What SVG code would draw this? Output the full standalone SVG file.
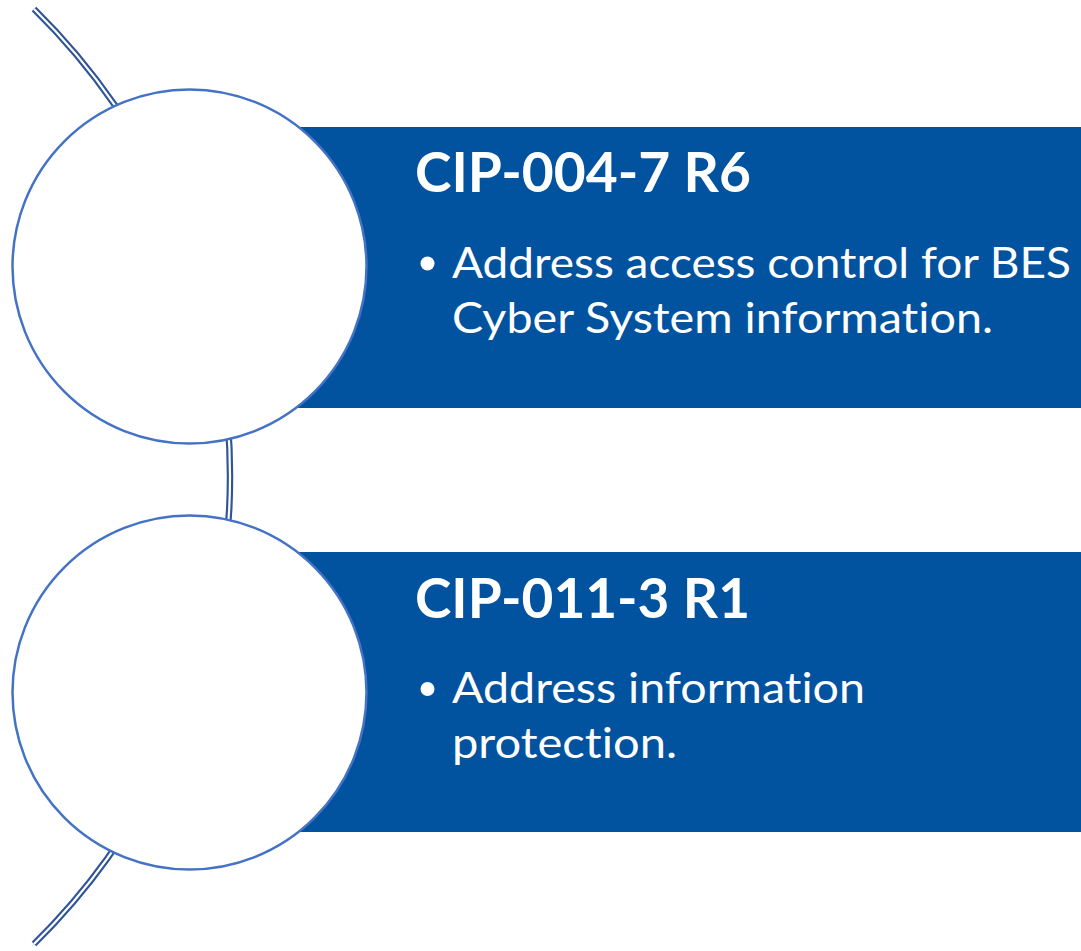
<svg xmlns="http://www.w3.org/2000/svg" width="1081" height="951" viewBox="0 0 1081 951">
<style>
.bar{fill:#01529F;}
.disc{fill:#FFFFFF;stroke:#4472C4;stroke-width:2.5;}
.title{font-family:Lato,"Open Sans",sans-serif;font-weight:bold;font-size:56px;fill:#FFFFFF;font-variant-ligatures:none;}
.body{font-family:Lato,"Open Sans",sans-serif;font-size:43px;fill:#FFFFFF;font-variant-ligatures:none;}
.arcOuter{fill:none;stroke:#2F5597;stroke-width:6.5;}
.arcInner{fill:none;stroke:#FFFFFF;stroke-width:2.2;}
</style>
<rect width="1081" height="951" fill="#FFFFFF"/>
<g id="connectors">
<path class="arcOuter" d="M34,9 A655.5,655.5 0 0 1 34,944"/>
<path class="arcInner" d="M34,9 A655.5,655.5 0 0 1 34,944"/>
</g>
<g id="node1">
<rect class="bar" x="190" y="127" width="891" height="281"/>
<circle class="disc" cx="189.5" cy="266.5" r="177"/>
<text class="title" x="415" y="192" textLength="336" lengthAdjust="spacingAndGlyphs">CIP-004-7 R6</text>
<circle cx="427.5" cy="263.5" r="7" fill="#FFFFFF"/>
<text class="body" x="452" y="278" textLength="619" lengthAdjust="spacingAndGlyphs">Address access control for BES</text>
<text class="body" x="452" y="333" textLength="541" lengthAdjust="spacingAndGlyphs">Cyber System information.</text>
</g>
<g id="node2">
<rect class="bar" x="190" y="552" width="891" height="280"/>
<circle class="disc" cx="189.5" cy="692.5" r="177"/>
<text class="title" x="415" y="618" textLength="335" lengthAdjust="spacingAndGlyphs">CIP-011-3 R1</text>
<circle cx="427.5" cy="689" r="7" fill="#FFFFFF"/>
<text class="body" x="452" y="703" textLength="413" lengthAdjust="spacingAndGlyphs">Address information</text>
<text class="body" x="452" y="758" textLength="225" lengthAdjust="spacingAndGlyphs">protection.</text>
</g>
</svg>
